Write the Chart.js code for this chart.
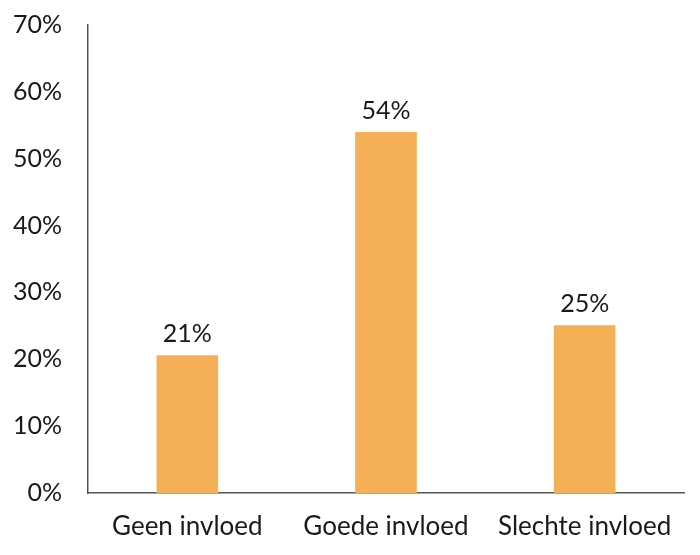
<!DOCTYPE html>
<html>
<head>
<meta charset="utf-8">
<script src="https://cdn.jsdelivr.net/npm/chart.js"></script>
<style>
  html, body { margin: 0; padding: 0; background: #fff; }
  #wrap { width: 700px; height: 555px; }
</style>
</head>
<body>
<div id="wrap"><canvas id="chart"></canvas></div>
<script>
// data
const categories = ['Geen invloed', 'Goede invloed', 'Slechte invloed'];
const values = [20.6, 54, 25.1];
const valueLabels = ['21%', '54%', '25%'];
const yTicks = [0, 10, 20, 30, 40, 50, 60, 70];

const barColor = '#F4AF57';
const axisColor = '#555555';
const fontFamily = "'Lato', 'Noto Sans', sans-serif";

// labels boven de balken
const barLabels = {
  id: 'barLabels',
  afterDatasetsDraw(chart) {
    const ctx = chart.ctx;
    const meta = chart.getDatasetMeta(0);
    ctx.save();
    ctx.fillStyle = '#1a1a1a';
    ctx.font = '25px ' + fontFamily;
    ctx.textAlign = 'center';
    ctx.textBaseline = 'bottom';
    meta.data.forEach((bar, i) => {
      ctx.fillText(valueLabels[i], bar.x, bar.y - 9);
    });
    ctx.restore();
  }
};

new Chart(document.getElementById('chart'), {
  type: 'bar',
  data: {
    labels: categories,
    datasets: [{
      data: values,
      backgroundColor: barColor,
      borderWidth: 0,
      categoryPercentage: 1,
      barPercentage: 0.31
    }]
  },
  options: {
    responsive: true,
    maintainAspectRatio: false,
    animation: false,
    layout: { padding: { top: 0, right: 16, left: 0, bottom: 0 } },
    plugins: {
      legend: { display: false },
      tooltip: { enabled: false }
    },
    scales: {
      x: {
        grid: { display: false, drawTicks: false },
        border: { display: true, color: axisColor, width: 1.5 },
        ticks: {
          color: '#1a1a1a',
          padding: 18,
          font: { family: fontFamily, size: 26 }
        },
        afterFit(scale) { scale.height = 62; }
      },
      y: {
        min: 0,
        max: 70,
        grid: { display: false, drawTicks: false },
        border: { display: true, color: axisColor, width: 1.5 },
        afterBuildTicks(scale) { scale.ticks = yTicks.map(v => ({ value: v })); },
        ticks: {
          color: '#1a1a1a',
          padding: 26,
          font: { family: fontFamily, size: 25 },
          callback: v => v + '%'
        },
        afterFit(scale) {
          scale.width = 88;
          scale.paddingTop = 25;
          scale.paddingBottom = 0;
        }
      }
    }
  },
  plugins: [barLabels]
});
</script>
</body>
</html>
